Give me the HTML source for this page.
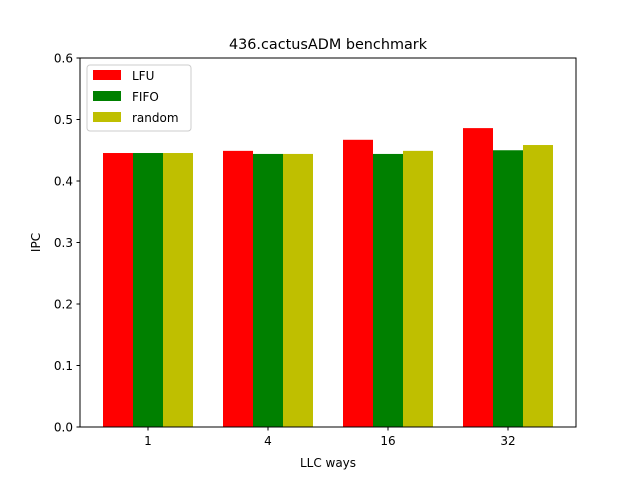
<!DOCTYPE html>
<html><head><meta charset="utf-8"><style>
body{margin:0;background:#fff;}
svg text{font-family:"DejaVu Sans","Liberation Sans",sans-serif;fill:#000;}
</style></head><body>
<svg id="chart" width="640" height="480" viewBox="0 0 640 480">
<rect width="640" height="480" fill="#fff"/>
<text x="328" y="49" font-size="14.4" text-anchor="middle">436.cactusADM benchmark</text>
<g id="bars"></g>
<g id="axes"></g>
<text x="328" y="467" font-size="12" text-anchor="middle">LLC ways</text>
<text transform="translate(40,242.5) rotate(-90)" font-size="12" text-anchor="middle">IPC</text>
</svg>
<script>
const categories = ["1","4","16","32"];
const lfu = [0.4455, 0.449, 0.467, 0.486];
const fifo = [0.4455, 0.444, 0.444, 0.450];
const random = [0.4455, 0.444, 0.449, 0.4585];
const yTicks = [0.0,0.1,0.2,0.3,0.4,0.5,0.6];
const seriesNames = ["LFU","FIFO","random"];

const NS="http://www.w3.org/2000/svg";
const L=80,R=576,T=58,B=427;
const xMin=-0.5667,xMax=3.5667,yMax=0.6;
const xs=v=>L+(v-xMin)/(xMax-xMin)*(R-L);
const ys=v=>B-v/yMax*(B-T);
const colors=["#ff0000","#008000","#bfbf00"];
const series=[lfu,fifo,random];
const barsG=document.getElementById('bars');
const axG=document.getElementById('axes');
function mk(tag,attrs,parent){const e=document.createElementNS(NS,tag);for(const k in attrs)e.setAttribute(k,attrs[k]);parent.appendChild(e);return e;}
series.forEach((s,si)=>{
  s.forEach((v,i)=>{
    const x0=xs(i+(si-1)*0.25-0.125), x1=xs(i+(si-1)*0.25+0.125);
    const r=mk('rect',{x:x0,y:ys(v),width:x1-x0,height:ys(0)-ys(v),fill:colors[si]},barsG);
    
    
  });
});
const frame=mk('rect',{x:L,y:T,width:R-L,height:B-T,fill:'none',stroke:'#000','stroke-width':1},axG);


yTicks.forEach(t=>{
  const y=ys(t);
  mk('line',{x1:L-3.5,x2:L,y1:y,y2:y,stroke:'#000'},axG);
  const tx=mk('text',{x:L-7,y:y+4.5,'font-size':12,'text-anchor':'end'},axG);
  tx.textContent=t.toFixed(1);
  
  
});
categories.forEach((c,i)=>{
  const x=xs(i);
  mk('line',{x1:x,x2:x,y1:B,y2:B+3.5,stroke:'#000'},axG);
  const tx=mk('text',{x:x,y:B+18,'font-size':12,'text-anchor':'middle'},axG);
  tx.textContent=c;
  
  
});
const lg=mk('g',{},axG);


mk('rect',{x:87,y:65,width:104,height:66,rx:3,fill:'#fff','fill-opacity':0.8,stroke:'#ccc'},lg);
seriesNames.forEach((n,i)=>{
  const y=70+i*21;
  const sw=mk('rect',{x:93,y:y,width:28,height:10,fill:colors[i]},lg);
  
  
  const tx=mk('text',{x:132,y:y+10,'font-size':12},lg);
  tx.textContent=n;
  
  
});
</script>
</body></html>
